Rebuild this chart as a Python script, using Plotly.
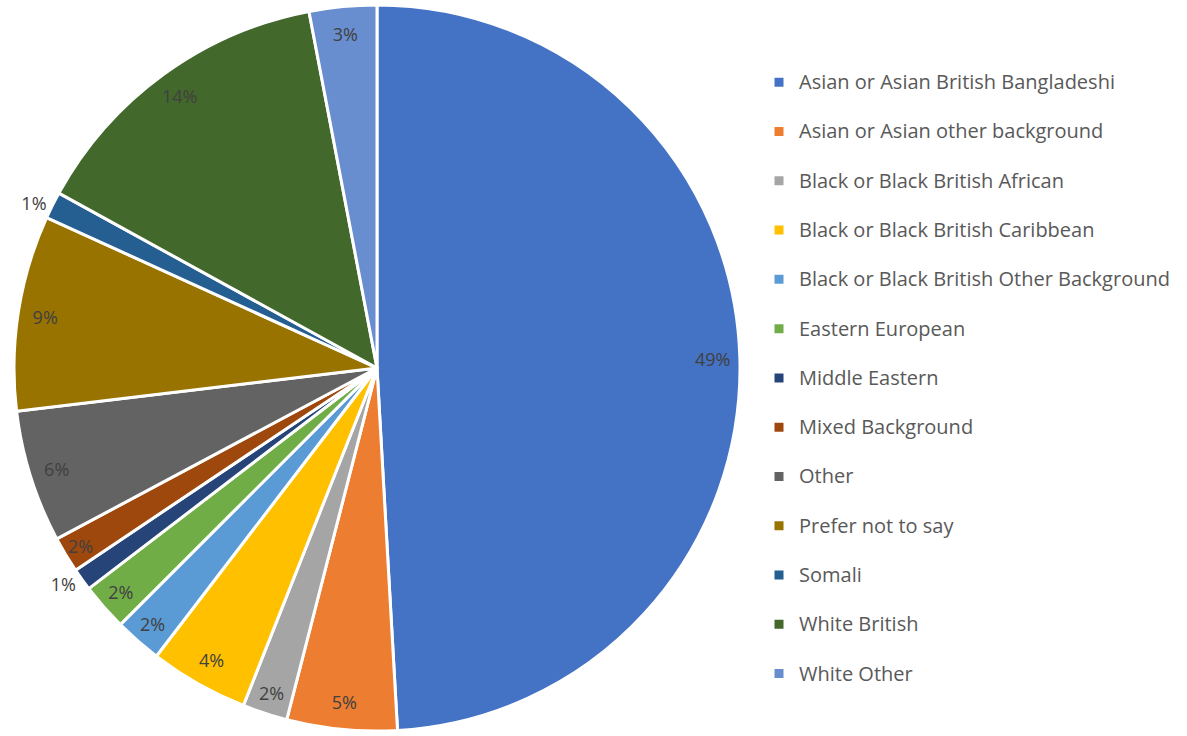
import plotly.graph_objects as go

categories = [
    "Asian or Asian British Bangladeshi",
    "Asian or Asian other background",
    "Black or Black British African",
    "Black or Black British Caribbean",
    "Black or Black British Other Background",
    "Eastern European",
    "Middle Eastern",
    "Mixed Background",
    "Other",
    "Prefer not to say",
    "Somali",
    "White British",
    "White Other",
]
shares = [49.1, 4.9, 2.0, 4.4, 2.1, 2.1, 1.0, 1.6, 5.9, 8.7, 1.2, 14.0, 3.0]
colors = ["#4472C4", "#ED7D31", "#A5A5A5", "#FFC000", "#5B9BD5", "#70AD47",
          "#264478", "#9E480E", "#636363", "#997300", "#255E91", "#43682B", "#698ED0"]
positions = ["inside"] * len(categories)
positions[6] = "outside"
positions[10] = "outside"

# legend entries: larger text plus a blank second line so rows are spaced like the original
legend_labels = ["<span style='font-size:20px'>" + c + "</span><br>\u00a0" for c in categories]

W, H = 1187, 736
cx, R = 377, 368
dom = dict(x=[(cx - R) / W, (cx + R) / W], y=[0, 1])

fig = go.Figure()
fig.add_trace(go.Pie(
    labels=legend_labels,
    values=shares,
    sort=False,
    direction="clockwise",
    rotation=0,
    marker=dict(colors=colors, line=dict(color="white", width=3)),
    textinfo="none",
    domain=dom,
    hoverinfo="percent",
))
# transparent outer ring carrying the percentage labels near the rim
fig.add_trace(go.Pie(
    labels=legend_labels,
    values=shares,
    sort=False,
    direction="clockwise",
    rotation=0,
    hole=0.85,
    marker=dict(colors=["rgba(0,0,0,0)"] * len(categories), line=dict(width=0)),
    texttemplate="%{percent:.0%}",
    textposition=positions,
    insidetextorientation="horizontal",
    textfont=dict(family="Open Sans", size=18, color="#404040"),
    domain=dom,
    showlegend=False,
    hoverinfo="skip",
))

fig.update_layout(
    width=W, height=H,
    margin=dict(l=0, r=0, t=0, b=0),
    paper_bgcolor="white",
    showlegend=True,
    legend=dict(
        x=759 / W, y=1 - 60 / H, xanchor="left", yanchor="top",
        font=dict(family="Open Sans", size=17.8, color="#595959"),
        itemwidth=30,
        valign="top",
        bgcolor="rgba(0,0,0,0)",
    ),
)

fig.write_html("out.html", config={"displayModeBar": False},
               post_script="document.body.style.margin='0';")
